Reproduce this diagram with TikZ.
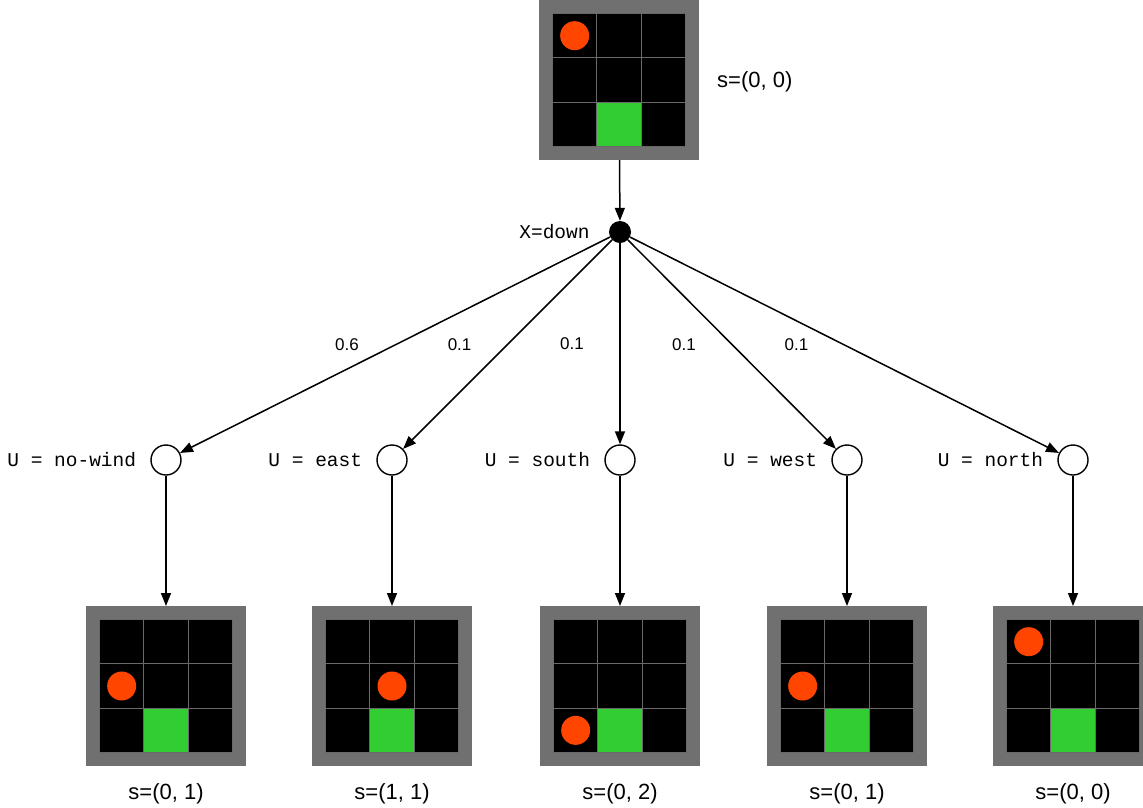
\documentclass[tikz,border=0pt]{standalone}
\usepackage{fontspec}
\setmainfont{Liberation Sans}
\setmonofont{Liberation Mono}
\usetikzlibrary{positioning,arrows.meta}

\definecolor{orangeagent}{RGB}{255,69,0}
\definecolor{vertbut}{RGB}{50,205,50}
\definecolor{grisbord}{RGB}{112,112,112}
\definecolor{grislignes}{RGB}{105,105,105}

\tikzset{
  cadre/.style={fill=grisbord, minimum size=160pt, inner sep=0pt, outer sep=0pt},
  decision/.style={circle, fill=black, minimum size=22pt, inner sep=0pt},
  hasard/.style={circle, draw, line width=1.4pt, fill=white, minimum size=30pt, inner sep=0pt},
  fleche/.style={line width=1.5pt, -{Triangle[length=13pt,width=10pt]}},
  etiq/.style={inner sep=0pt, font=\fontsize{22}{26}\selectfont},
  proba/.style={font=\fontsize{17}{20}\selectfont},
  var/.style={inner sep=0pt, font=\ttfamily\fontsize{19.5}{24}\selectfont},
}

% Grille 3x3 : nom, centre, colonne et ligne de l'agent
\newcommand{\grille}[4]{%
  \node[cadre] (#1) at (#2) {};
  \begin{scope}[shift={(#1.center)}]
    \fill[black] (-66.5,-66.5) rectangle (66.5,66.5);
    \fill[vertbut] (-22.17,22.17) rectangle (22.17,66.5);
    \draw[grislignes, line width=1pt] (-66.5,-66.5) rectangle (66.5,66.5);
    \draw[grislignes, line width=1pt] (-22.17,-66.5) -- (-22.17,66.5) (22.17,-66.5) -- (22.17,66.5);
    \draw[grislignes, line width=1pt] (-66.5,-22.17) -- (66.5,-22.17) (-66.5,22.17) -- (66.5,22.17);
    \fill[orangeagent] ({-44.33+44.33*#3},{-44.33+44.33*#4}) circle (14.5pt);
  \end{scope}
}

\begin{document}
\begin{tikzpicture}[x=1pt,y=-1pt]
\useasboundingbox (0,0) rectangle (1143,807);
  % Etat de depart
\grille{s0}{619,80}{0}{0}
  \node[etiq, right=18pt of s0, yshift=-2pt] (ls0) {s=(0, 0)};
  % Action
  \node[decision] (x) at (620,232) {};
  \node[var, left=19pt of x] (lx) {X=down};
  \draw[fleche] (s0) -- (x);
  % Vent
  \node[hasard] (u1) at (166,460) {};
  \node[hasard] (u2) at (392,460) {};
  \node[hasard] (u3) at (620,460) {};
  \node[hasard] (u4) at (847,460) {};
  \node[hasard] (u5) at (1073,460) {};
    \node[var, left=14pt of u1] (lu1) {U = no-wind};
    \node[var, left=14pt of u2] (lu2) {U = east};
    \node[var, left=14pt of u3] (lu3) {U = south};
    \node[var, left=14pt of u4] (lu4) {U = west};
    \node[var, left=14pt of u5] (lu5) {U = north};
  \draw[fleche] (x) -- node[proba, midway, xshift=-48pt] {0.6} (u1);
  \draw[fleche] (x) -- node[proba, midway, xshift=-48pt] {0.1} (u2);
  \draw[fleche] (x) -- node[proba, midway, xshift=-48pt] {0.1} (u3);
  \draw[fleche] (x) -- node[proba, midway, xshift=-48pt] {0.1} (u4);
  \draw[fleche] (x) -- node[proba, midway, xshift=-48pt] {0.1} (u5);
  % Etats suivants
\grille{s1}{166,686}{0}{1}
\grille{s2}{392,686}{1}{1}
\grille{s3}{620,686}{0}{2}
\grille{s4}{847,686}{0}{1}
\grille{s5}{1073,686}{0}{0}
    \node[etiq, below=17pt of s1] (ls1) {s=(0, 1)};
    \node[etiq, below=17pt of s2] (ls2) {s=(1, 1)};
    \node[etiq, below=17pt of s3] (ls3) {s=(0, 2)};
    \node[etiq, below=17pt of s4] (ls4) {s=(0, 1)};
    \node[etiq, below=17pt of s5] (ls5) {s=(0, 0)};
  \draw[fleche] (u1) -- (s1);
  \draw[fleche] (u2) -- (s2);
  \draw[fleche] (u3) -- (s3);
  \draw[fleche] (u4) -- (s4);
  \draw[fleche] (u5) -- (s5);
\end{tikzpicture}
\end{document}
